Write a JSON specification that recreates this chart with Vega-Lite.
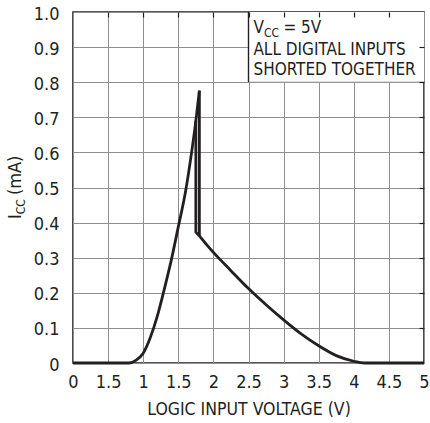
{
  "$schema": "https://vega.github.io/schema/vega-lite/v6.json",
  "width": 351,
  "height": 351,
  "autosize": "none",
  "padding": {"left": 73, "top": 12, "right": 6, "bottom": 60},
  "background": "white",
  "config": {
    "font": "DejaVu Sans Condensed",
    "view": {"stroke": "#231f20", "strokeWidth": 1.6},
    "axis": {"labelColor": "#231f20", "titleColor": "#231f20", "labelFontSize": 18, "titleFontSize": 17.5, "titleFontWeight": "normal", "labelFont": "DejaVu Sans Condensed", "titleFont": "DejaVu Sans Condensed"},
    "text": {"color": "#231f20", "font": "DejaVu Sans Condensed"}
  },
  "data": {
    "values": [
      {"s": "rise", "i": 0, "x": 0, "y": 0},
      {"s": "rise", "i": 1, "x": 0.5, "y": 0},
      {"s": "rise", "i": 2, "x": 0.8, "y": 0},
      {"s": "rise", "i": 3, "x": 0.9, "y": 0.008},
      {"s": "rise", "i": 4, "x": 1.0, "y": 0.028},
      {"s": "rise", "i": 5, "x": 1.1, "y": 0.072},
      {"s": "rise", "i": 6, "x": 1.2, "y": 0.133},
      {"s": "rise", "i": 7, "x": 1.3, "y": 0.21},
      {"s": "rise", "i": 8, "x": 1.4, "y": 0.293},
      {"s": "rise", "i": 9, "x": 1.5, "y": 0.388},
      {"s": "rise", "i": 10, "x": 1.6, "y": 0.485},
      {"s": "rise", "i": 11, "x": 1.7, "y": 0.615},
      {"s": "rise", "i": 12, "x": 1.75, "y": 0.69},
      {"s": "rise", "i": 13, "x": 1.8, "y": 0.776},
      {"s": "drop", "i": 0, "x": 1.8, "y": 0.776},
      {"s": "drop", "i": 1, "x": 1.8, "y": 0.362},
      {"s": "inner", "i": 0, "x": 1.75, "y": 0.69},
      {"s": "inner", "i": 1, "x": 1.75, "y": 0.373},
      {"s": "inner", "i": 2, "x": 1.8, "y": 0.362},
      {"s": "fall", "i": 0, "x": 1.8, "y": 0.362},
      {"s": "fall", "i": 1, "x": 1.9, "y": 0.338},
      {"s": "fall", "i": 2, "x": 2.0, "y": 0.315},
      {"s": "fall", "i": 3, "x": 2.25, "y": 0.263},
      {"s": "fall", "i": 4, "x": 2.5, "y": 0.212},
      {"s": "fall", "i": 5, "x": 2.75, "y": 0.166},
      {"s": "fall", "i": 6, "x": 3.0, "y": 0.123},
      {"s": "fall", "i": 7, "x": 3.25, "y": 0.083},
      {"s": "fall", "i": 8, "x": 3.5, "y": 0.049},
      {"s": "fall", "i": 9, "x": 3.75, "y": 0.021},
      {"s": "fall", "i": 10, "x": 4.0, "y": 0.005},
      {"s": "fall", "i": 11, "x": 4.15, "y": 0},
      {"s": "fall", "i": 12, "x": 4.5, "y": 0},
      {"s": "fall", "i": 13, "x": 5.0, "y": 0}
    ]
  },
  "resolve": {"axis": {"x": "independent", "y": "independent"}},
  "layer": [
    {
      "mark": {"type": "line", "interpolate": "monotone", "color": "#231f20", "strokeWidth": 2.8},
      "transform": [{"filter": "datum.s == 'rise' || datum.s == 'fall'"}],
      "encoding": {
        "x": {"field": "x", "type": "quantitative", "scale": {"domain": [0, 5], "nice": false},
          "axis": {"orient": "bottom", "values": [0, 0.5, 1, 1.5, 2, 2.5, 3, 3.5, 4, 4.5, 5], "grid": true, "gridColor": "#8f8f8f", "gridWidth": 1, "domain": false, "ticks": false, "labelPadding": 10, "labelFlush": false, "labelExpr": "datum.value == 0.5 ? '1.5' : format(datum.value, '~g')", "title": "LOGIC INPUT VOLTAGE (V)", "titlePadding": 9}},
        "y": {"field": "y", "type": "quantitative", "scale": {"domain": [0, 1], "nice": false},
          "axis": {"orient": "left", "values": [0, 0.1, 0.2, 0.3, 0.4, 0.5, 0.6, 0.7, 0.8, 0.9, 1.0], "grid": true, "gridColor": "#8f8f8f", "gridWidth": 1, "domain": false, "ticks": false, "labelPadding": 14, "labelOffset": 2, "labelFlush": false, "labelExpr": "datum.value == 0 ? '0' : format(datum.value, '.1f')", "title": null}},
        "detail": {"field": "s"}
      }
    },
    {
      "data": {"values": [{}]},
      "mark": {"type": "rect", "fill": "white", "stroke": null},
      "encoding": {
        "x": {"datum": 2.5, "type": "quantitative", "scale": {"domain": [0, 5], "nice": false},
          "axis": {"orient": "top", "values": [0.5, 1, 1.5, 2, 2.5, 3, 3.5, 4, 4.5], "labels": false, "grid": false, "domain": false, "ticks": true, "tickSize": -5, "tickColor": "#231f20", "tickWidth": 1.2, "title": null, "zindex": 1}},
        "x2": {"datum": 5},
        "y": {"datum": 0.8, "type": "quantitative", "scale": {"domain": [0, 1], "nice": false},
          "axis": {"orient": "right", "values": [0.1, 0.2, 0.3, 0.4, 0.5, 0.6, 0.7, 0.8, 0.9], "labels": false, "grid": false, "domain": false, "ticks": true, "tickSize": -5, "tickColor": "#231f20", "tickWidth": 1.2, "title": null, "zindex": 1}},
        "y2": {"datum": 1}
      }
    },
    {
      "data": {"values": [{}]},
      "mark": {"type": "rule", "color": "#8f8f8f", "strokeWidth": 1},
      "encoding": {
        "x": {"datum": 2.5, "type": "quantitative", "scale": {"domain": [0, 5], "nice": false}, "axis": null},
        "x2": {"datum": 5},
        "y": {"datum": 0.8, "type": "quantitative", "scale": {"domain": [0, 1], "nice": false}, "axis": null}
      }
    },
    {
      "data": {"values": [{}]},
      "mark": {"type": "rule", "color": "#231f20", "strokeWidth": 1.4},
      "encoding": {
        "x": {"datum": 2.5, "type": "quantitative", "scale": {"domain": [0, 5], "nice": false}, "axis": null},
        "y": {"datum": 0.8, "type": "quantitative", "scale": {"domain": [0, 1], "nice": false}, "axis": null},
        "y2": {"datum": 1}
      }
    },
    {
      "mark": {"type": "line", "interpolate": "linear", "color": "#231f20", "strokeWidth": 2.8},
      "transform": [{"filter": "datum.s == 'drop' || datum.s == 'inner'"}],
      "encoding": {
        "x": {"field": "x", "type": "quantitative", "scale": {"domain": [0, 5], "nice": false}, "axis": null},
        "y": {"field": "y", "type": "quantitative", "scale": {"domain": [0, 1], "nice": false}, "axis": null},
        "detail": {"field": "s"},
        "order": {"field": "i", "type": "quantitative"}
      }
    },
    {
      "data": {"values": [{}]},
      "mark": {"type": "text", "text": "V", "fontSize": 17, "align": "left", "baseline": "middle"},
      "encoding": {
        "x": {"datum": 2.57, "type": "quantitative", "scale": {"domain": [0, 5], "nice": false}, "axis": null},
        "y": {"datum": 0.955, "type": "quantitative", "scale": {"domain": [0, 1], "nice": false}, "axis": null}
      }
    },
    {
      "data": {"values": [{}]},
      "mark": {"type": "text", "text": "CC", "fontSize": 12, "align": "left", "baseline": "middle", "dx": 10.5, "dy": 5},
      "encoding": {
        "x": {"datum": 2.57, "type": "quantitative", "scale": {"domain": [0, 5], "nice": false}, "axis": null},
        "y": {"datum": 0.955, "type": "quantitative", "scale": {"domain": [0, 1], "nice": false}, "axis": null}
      }
    },
    {
      "data": {"values": [{}]},
      "mark": {"type": "text", "text": "= 5V", "fontSize": 17, "align": "left", "baseline": "middle", "dx": 30},
      "encoding": {
        "x": {"datum": 2.57, "type": "quantitative", "scale": {"domain": [0, 5], "nice": false}, "axis": null},
        "y": {"datum": 0.955, "type": "quantitative", "scale": {"domain": [0, 1], "nice": false}, "axis": null}
      }
    },
    {
      "data": {"values": [{}]},
      "mark": {"type": "text", "text": "ALL DIGITAL INPUTS", "fontSize": 17, "align": "left", "baseline": "middle"},
      "encoding": {
        "x": {"datum": 2.57, "type": "quantitative", "scale": {"domain": [0, 5], "nice": false}, "axis": null},
        "y": {"datum": 0.893, "type": "quantitative", "scale": {"domain": [0, 1], "nice": false}, "axis": null}
      }
    },
    {
      "data": {"values": [{}]},
      "mark": {"type": "text", "text": "SHORTED TOGETHER", "fontSize": 17, "align": "left", "baseline": "middle"},
      "encoding": {
        "x": {"datum": 2.57, "type": "quantitative", "scale": {"domain": [0, 5], "nice": false}, "axis": null},
        "y": {"datum": 0.834, "type": "quantitative", "scale": {"domain": [0, 1], "nice": false}, "axis": null}
      }
    },
    {
      "data": {"values": [{}]},
      "mark": {"type": "text", "text": "I", "fontSize": 18, "align": "left", "baseline": "middle", "angle": 270},
      "encoding": {
        "x": {"datum": -0.81, "type": "quantitative", "scale": {"domain": [0, 5], "nice": false}, "axis": null},
        "y": {"datum": 0.41, "type": "quantitative", "scale": {"domain": [0, 1], "nice": false}, "axis": null}
      }
    },
    {
      "data": {"values": [{}]},
      "mark": {"type": "text", "text": "CC", "fontSize": 12, "align": "left", "baseline": "middle", "angle": 270, "dx": 4.8, "dy": 5},
      "encoding": {
        "x": {"datum": -0.81, "type": "quantitative", "scale": {"domain": [0, 5], "nice": false}, "axis": null},
        "y": {"datum": 0.41, "type": "quantitative", "scale": {"domain": [0, 1], "nice": false}, "axis": null}
      }
    },
    {
      "data": {"values": [{}]},
      "mark": {"type": "text", "text": "(mA)", "fontSize": 18, "align": "left", "baseline": "middle", "angle": 270, "dx": 24},
      "encoding": {
        "x": {"datum": -0.81, "type": "quantitative", "scale": {"domain": [0, 5], "nice": false}, "axis": null},
        "y": {"datum": 0.41, "type": "quantitative", "scale": {"domain": [0, 1], "nice": false}, "axis": null}
      }
    }
  ]
}
